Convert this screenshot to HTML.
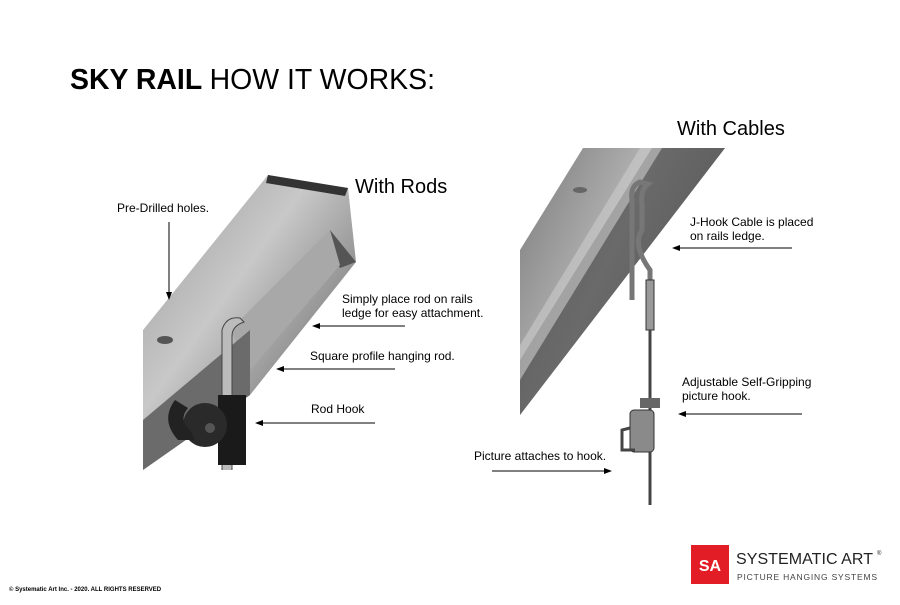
<!DOCTYPE html>
<html><head><style>
body{margin:0;background:#fff;width:900px;height:600px;overflow:hidden;font-family:"Liberation Sans",Arial,sans-serif}
</style></head><body>
<svg width="900" height="600" viewBox="0 0 900 600" xmlns="http://www.w3.org/2000/svg" font-family="Liberation Sans, Arial, sans-serif">
<defs>
<linearGradient id="g1" x1="0" y1="0" x2="1" y2="1">
<stop offset="0" stop-color="#9a9a9a"/><stop offset="0.4" stop-color="#c8c8c8"/><stop offset="0.7" stop-color="#8a8a8a"/><stop offset="1" stop-color="#6a6a6a"/></linearGradient>
<linearGradient id="g2" x1="0" y1="0" x2="1" y2="0.6">
<stop offset="0" stop-color="#7a7a7a"/><stop offset="0.5" stop-color="#b5b5b5"/><stop offset="0.8" stop-color="#8e8e8e"/><stop offset="1" stop-color="#3a3a3a"/></linearGradient>
</defs>
<text x="70" y="89" font-size="29" font-weight="bold" fill="#000" textLength="365" lengthAdjust="spacingAndGlyphs">SKY RAIL <tspan font-weight="normal">HOW IT WORKS:</tspan></text>

<!-- left rail -->
<polygon points="143,330 268,175 348,188 356,262 250,395 143,470" fill="url(#g1)"/>
<polygon points="268,175 348,188 345,196 266,183" fill="#333"/>
<polygon points="330,230 356,262 340,268 325,240" fill="#555"/>
<polygon points="230,330 330,230 340,265 250,370" fill="#a8a8a8"/>
<polygon points="143,420 250,330 250,395 143,470" fill="#6b6b6b"/>
<ellipse cx="165" cy="340" rx="8" ry="4" fill="#555"/>
<path d="M222,470 L222,330 Q226,316 240,318 L244,322 Q232,326 232,336 L232,470" fill="#bbb" stroke="#444"/>
<rect x="218" y="395" width="28" height="70" fill="#1a1a1a"/>
<circle cx="205" cy="425" r="22" fill="#2a2a2a"/>
<path d="M175,400 Q160,420 178,440 L195,440 L190,430 Q178,420 188,408z" fill="#222"/>
<circle cx="210" cy="428" r="5" fill="#555"/>
<text x="355" y="193" font-size="20">With Rods</text>
<text x="117" y="212" font-size="12">Pre-Drilled holes.</text>
<line x1="169" y1="222" x2="169" y2="294" stroke="#000"/>
<path d="M169,300 L166,292 L172,292z" fill="#000"/>
<text x="342" y="303" font-size="12">Simply place rod on rails</text>
<text x="342" y="317" font-size="12">ledge for easy attachment.</text>
<line x1="405" y1="326" x2="318" y2="326" stroke="#000"/>
<path d="M312,326 L320,323 L320,329z" fill="#000"/>
<text x="310" y="360" font-size="12">Square profile hanging rod.</text>
<line x1="395" y1="369" x2="282" y2="369" stroke="#000"/>
<path d="M276,369 L284,366 L284,372z" fill="#000"/>
<text x="311" y="413" font-size="12">Rod Hook</text>
<line x1="375" y1="423" x2="261" y2="423" stroke="#000"/>
<path d="M255,423 L263,420 L263,426z" fill="#000"/>

<!-- right rail -->
<polygon points="520,250 583,148 725,148 520,415" fill="url(#g2)"/>
<polygon points="652,148 725,148 520,415 520,360" fill="#4a4a4a" opacity="0.7"/>
<polygon points="640,148 662,148 520,380 520,345" fill="#ccc" opacity="0.6"/>
<ellipse cx="580" cy="190" rx="7" ry="3" fill="#666"/>
<path d="M632,300 L632,200 Q630,186 640,182 L648,184 Q640,190 642,205 L642,230 Q632,245 650,270 L650,330" fill="none" stroke="#777" stroke-width="5"/>
<rect x="646" y="280" width="8" height="50" fill="#999" stroke="#333"/>
<line x1="650" y1="330" x2="650" y2="505" stroke="#444" stroke-width="3"/>
<rect x="640" y="398" width="20" height="10" fill="#666"/>
<rect x="630" y="410" width="24" height="42" rx="4" fill="#8a8a8a" stroke="#333"/>
<path d="M630,428 L622,430 L622,450 L635,450" fill="none" stroke="#444" stroke-width="3"/>
<text x="677" y="135" font-size="20">With Cables</text>
<text x="690" y="226" font-size="12">J-Hook Cable is placed</text>
<text x="690" y="240" font-size="12">on rails ledge.</text>
<line x1="792" y1="248" x2="678" y2="248" stroke="#000"/>
<path d="M672,248 L680,245 L680,251z" fill="#000"/>
<text x="682" y="386" font-size="12">Adjustable Self-Gripping</text>
<text x="682" y="400" font-size="12">picture hook.</text>
<line x1="802" y1="414" x2="684" y2="414" stroke="#000"/>
<path d="M678,414 L686,411 L686,417z" fill="#000"/>
<text x="474" y="460" font-size="12">Picture attaches to hook.</text>
<line x1="492" y1="471" x2="606" y2="471" stroke="#000"/>
<path d="M612,471 L604,468 L604,474z" fill="#000"/>

<!-- footer -->
<text x="9" y="591" font-size="6" font-weight="bold">© Systematic Art Inc. - 2020. ALL RIGHTS RESERVED</text>
<rect x="691" y="545" width="38" height="39" fill="#e31d25"/>
<text x="710" y="571" font-size="16" font-weight="bold" fill="#fff" text-anchor="middle">SA</text>
<text x="736" y="564" font-size="16" fill="#222" textLength="137">SYSTEMATIC ART</text>
<text x="877" y="555" font-size="6" fill="#222">®</text>
<text x="737" y="580" font-size="8.5" fill="#444" textLength="140">PICTURE HANGING SYSTEMS</text>
</svg>
</body></html>
